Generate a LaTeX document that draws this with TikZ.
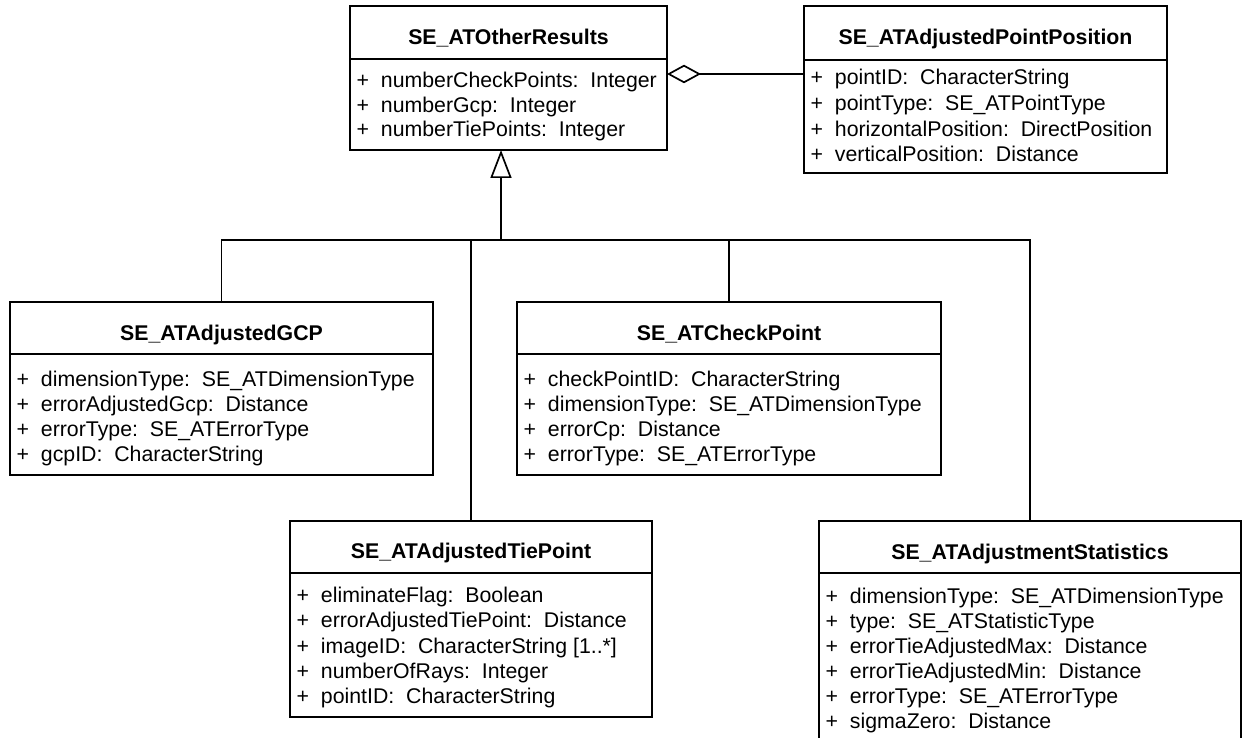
\documentclass[tikz,border=0pt]{standalone}
\usepackage{fontspec}
\setmainfont{Liberation Sans}
\usetikzlibrary{arrows.meta,calc}

% One UML class: #1 id, #2 left, #3 top, #4 right, #5 bottom, #6 divider y,
% #7 title baseline, #8 title, #9 list of baseline/attribute
\newcommand\umlclass[9]{%
  \node[clsbox, minimum width=#4-#2, minimum height=#5-#3, anchor=north west] (#1) at (#2,#3) {};
  \draw[clsline] (#2,#6) -- (#4,#6);
  \node[clstitle] (#1-title) at ({(#2+#4)/2},#7) {#8};
  \foreach \by/\txt [count=\k] in {#9} {
    \node[clsrow] (#1-row\k) at (#2+6.5,\by) {+\ \ \txt};
  }
}

\tikzset{
  clsbox/.style={draw=black, line width=1.7pt, fill=white, inner sep=0pt, outer sep=0pt},
  clsline/.style={line width=1.7pt},
  clstitle/.style={anchor=base, inner sep=0pt, font=\fontsize{21.3pt}{25pt}\selectfont\bfseries},
  clsrow/.style={anchor=base west, inner sep=0pt, font=\fontsize{21.3pt}{25pt}\selectfont},
  link/.style={line width=1.7pt},
}

\begin{document}
\begin{tikzpicture}[x=1pt, y=-1pt]
\useasboundingbox (0,0) rectangle (1243,738);
\clip (0,0) rectangle (1243,738);
\fill[white] (0,0) rectangle (1243,738);

\umlclass{other}{350}{6}{667}{150}{59}{44.6}{SE\_ATOtherResults}
  {87.6/{numberCheckPoints:\ \ Integer},
   112.1/{numberGcp:\ \ Integer},
   136.6/{numberTiePoints:\ \ Integer}}

\umlclass{app}{804}{6}{1167}{173}{60}{44.3}{SE\_ATAdjustedPointPosition}
  {85/{pointID:\ \ CharacterString},
   110.8/{pointType:\ \ SE\_ATPointType},
   136.2/{horizontalPosition:\ \ DirectPosition},
   161.6/{verticalPosition:\ \ Distance}}

\umlclass{gcp}{10}{302}{433}{475}{354}{340.6}{SE\_ATAdjustedGCP}
  {386.2/{dimensionType:\ \ SE\_ATDimensionType},
   411.4/{errorAdjustedGcp:\ \ Distance},
   436.6/{errorType:\ \ SE\_ATErrorType},
   461.8/{gcpID:\ \ CharacterString}}

\umlclass{chk}{517}{302}{941}{475}{354}{340.6}{SE\_ATCheckPoint}
  {386.2/{checkPointID:\ \ CharacterString},
   411.4/{dimensionType:\ \ SE\_ATDimensionType},
   436.6/{errorCp:\ \ Distance},
   461.8/{errorType:\ \ SE\_ATErrorType}}

\umlclass{tie}{290}{521}{652}{717}{573}{558.6}{SE\_ATAdjustedTiePoint}
  {602.6/{eliminateFlag:\ \ Boolean},
   627.9/{errorAdjustedTiePoint:\ \ Distance},
   653.2/{imageID:\ \ CharacterString [1..*]},
   678.5/{numberOfRays:\ \ Integer},
   703.8/{pointID:\ \ CharacterString}}

\umlclass{stats}{819}{521}{1241}{770}{573}{559.6}{SE\_ATAdjustmentStatistics}
  {603.6/{dimensionType:\ \ SE\_ATDimensionType},
   628.6/{type:\ \ SE\_ATStatisticType},
   653.6/{errorTieAdjustedMax:\ \ Distance},
   678.6/{errorTieAdjustedMin:\ \ Distance},
   703.6/{errorType:\ \ SE\_ATErrorType},
   728.6/{sigmaZero:\ \ Distance}}

% aggregation: SE_ATOtherResults <>--- SE_ATAdjustedPointPosition
\coordinate (aggy) at (0,74);
\draw[link, -{Diamond[open, length=34pt, width=18.5pt, line width=1.7pt]}]
  (app.west |- aggy) -- (other.east |- aggy);

% generalization tree
\coordinate (bus) at (501,240);
\coordinate (gen) at (bus |- other.south);
\draw[link] (gcp.north) |- (bus);
\draw[link] (stats.north) |- (bus);
\draw[link] (tie.north) -- (tie.north |- bus);
\draw[link] (chk.north) -- (chk.north |- bus);
\draw[link, -{Triangle[open, length=28pt, width=21pt, line width=1.7pt]}] (bus) -- (gen);
\end{tikzpicture}
\end{document}
